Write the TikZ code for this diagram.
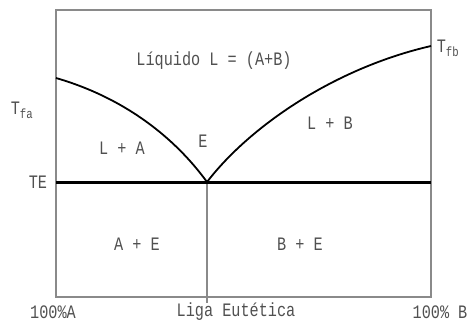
\documentclass[tikz,border=0pt]{standalone}
\usepackage{fontspec}
\setmainfont[FakeStretch=0.8]{Liberation Mono}
\definecolor{FrameGray}{HTML}{8A8A8A}
\definecolor{LabelGray}{HTML}{505050}

\begin{document}
\begin{tikzpicture}[
    x=1pt,y=-1pt,
    every node/.style={
      text=LabelGray,
      inner sep=0pt,
      font=\fontsize{19}{21}\selectfont
    },
    frame/.style={draw=FrameGray,line width=1.2pt},
    liquidus/.style={black,line width=1.8pt},
    eutline/.style={black,line width=3pt}
  ]
    \useasboundingbox (0,0) rectangle (471,327);
    % corners and key points
    \coordinate (tl) at (56,10);
    \coordinate (br) at (431,297);
    \coordinate (fa) at (56,78);
    \coordinate (fb) at (431,46);
    \coordinate (eut) at (207,182);
    \coordinate (teL) at (56,182);
    \coordinate (teR) at (431,182);
    \coordinate (lig) at (207,303);
    \draw[frame] (tl) rectangle (br);
    \draw[frame] (eut) -- (lig);
    \draw[eutline] (teL) -- (teR);
    \draw[liquidus] (fa) .. controls (125,98) and (175,138) .. (eut);
    \draw[liquidus] (eut) .. controls (250,126) and (335,68) .. (fb);
    % labels
    \node (liq) at (214,61) {Líquido L = (A+B)};
    \node (tfa) at (22,110) {T\textsubscript{fa}};
    \node (tfb) at (448,48) {T\textsubscript{fb}};
    \node (la) at (122,148) {L + A};
    \node (e) at (203,141) {E};
    \node (lb) at (330,123) {L + B};
    \node (te) at (38,182) {TE};
    \node (ae) at (137,244) {A + E};
    \node (be) at (300,244) {B + E};
    \node (pa) at (53,312) {100\%A};
    \node (liga) at (236,312) {Liga Eutética};
    \node (pb) at (440,312) {100\% B};
\end{tikzpicture}
\end{document}
